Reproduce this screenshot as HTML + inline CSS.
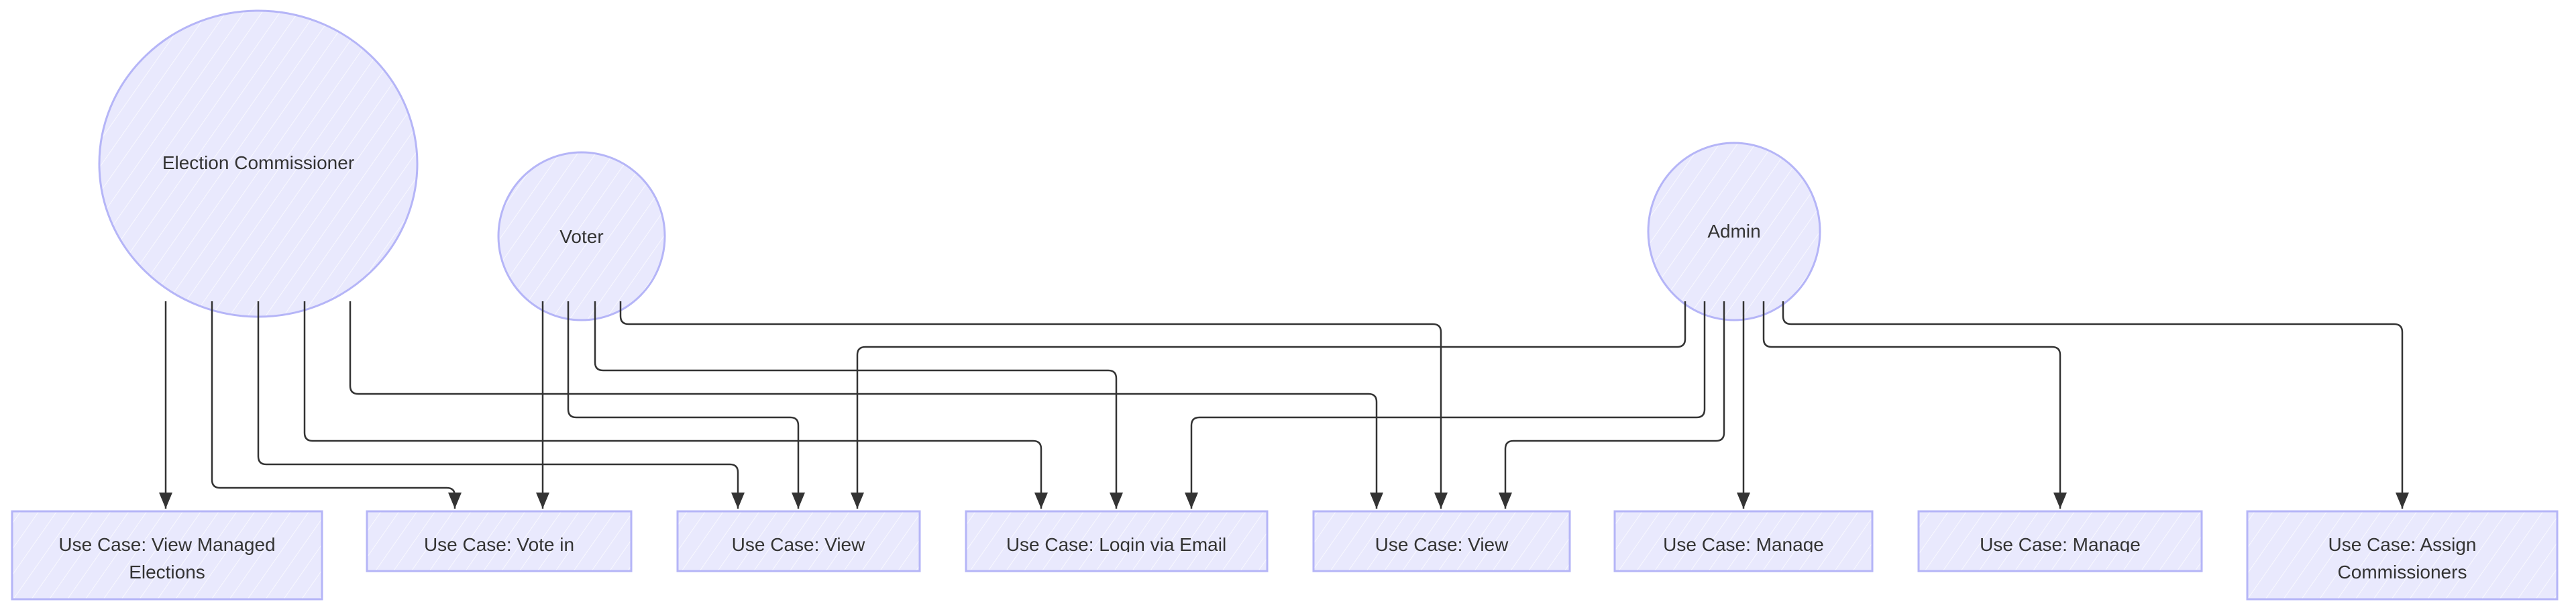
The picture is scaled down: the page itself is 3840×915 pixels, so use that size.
<!DOCTYPE html>
<html><head><meta charset="utf-8"><style>
html,body{margin:0;padding:0;background:#fff;}
svg{display:block}
text{font-family:"Liberation Sans",Arial,sans-serif;font-size:28px;fill:#333;text-anchor:middle}
</style></head><body>
<svg width="3840" height="915" viewBox="0 0 3840 915" xmlns="http://www.w3.org/2000/svg">
<defs>
<pattern id="h" patternUnits="userSpaceOnUse" width="22" height="22" patternTransform="rotate(35)">
<rect width="22" height="22" fill="#e9e9fd"/>
<line x1="0" y1="0" x2="0" y2="22" stroke="#fff" stroke-width="2" opacity="0.7"/>
</pattern>
<marker id="a" markerWidth="24" markerHeight="20" refX="24" refY="10" orient="auto" markerUnits="userSpaceOnUse">
<path d="M0,0 L24,10 L0,20 Z" fill="#333"/>
</marker>
<clipPath id="c"><rect x="0" y="0" width="3840" height="823"/></clipPath>
</defs>
<g fill="url(#h)" stroke="#b5b5f7" stroke-width="3">
<ellipse cx="385" cy="244" rx="237" ry="228"/>
<ellipse cx="867" cy="352" rx="124" ry="125"/>
<ellipse cx="2585" cy="345" rx="128" ry="132"/>
<rect x="18" y="762" width="462" height="131"/>
<rect x="547" y="762" width="394" height="89"/>
<rect x="1010" y="762" width="361" height="89"/>
<rect x="1440" y="762" width="449" height="89"/>
<rect x="1958" y="762" width="382" height="89"/>
<rect x="2407" y="762" width="384" height="89"/>
<rect x="2860" y="762" width="422" height="89"/>
<rect x="3350" y="762" width="462" height="131"/>
</g>
<text x="385" y="252">Election Commissioner</text>
<text x="867" y="362">Voter</text>
<text x="2585" y="354">Admin</text>
<text x="249" y="821">Use Case: View Managed</text>
<text x="249" y="862">Elections</text>
<text x="3581" y="821">Use Case: Assign</text>
<text x="3581" y="862">Commissioners</text>
<g clip-path="url(#c)">
<text x="744" y="821">Use Case: Vote in</text>
<text x="1190" y="821">Use Case: View</text>
<text x="1664" y="821">Use Case: Login via Email</text>
<text x="2149" y="821">Use Case: View</text>
<text x="2599" y="821">Use Case: Manage</text>
<text x="3071" y="821">Use Case: Manage</text>
</g>
<g fill="none" stroke="#333" stroke-width="2.5" marker-end="url(#a)">
<path d="M247,449 V758"/>
<path d="M316,449 V715 Q316,727 328,727 H666 Q678,727 678,739 V758"/>
<path d="M385,449 V680 Q385,692 397,692 H1088 Q1100,692 1100,704 V758"/>
<path d="M454,449 V645 Q454,657 466,657 H1540 Q1552,657 1552,669 V758"/>
<path d="M522,449 V575 Q522,587 534,587 H2040 Q2052,587 2052,599 V758"/>
<path d="M809,449 V758"/>
<path d="M847,449 V610 Q847,622 859,622 H1178 Q1190,622 1190,634 V758"/>
<path d="M887,449 V540 Q887,552 899,552 H1652 Q1664,552 1664,564 V758"/>
<path d="M925,449 V471 Q925,483 937,483 H2136 Q2148,483 2148,495 V758"/>
<path d="M2512,449 V505 Q2512,517 2500,517 H1290 Q1278,517 1278,529 V758"/>
<path d="M2541,449 V610 Q2541,622 2529,622 H1788 Q1776,622 1776,634 V758"/>
<path d="M2570,449 V645 Q2570,657 2558,657 H2256 Q2244,657 2244,669 V758"/>
<path d="M2599,449 V758"/>
<path d="M2629,449 V505 Q2629,517 2641,517 H3059 Q3071,517 3071,529 V758"/>
<path d="M2658,449 V471 Q2658,483 2670,483 H3569 Q3581,483 3581,495 V758"/>
</g>
</svg>
</body></html>
